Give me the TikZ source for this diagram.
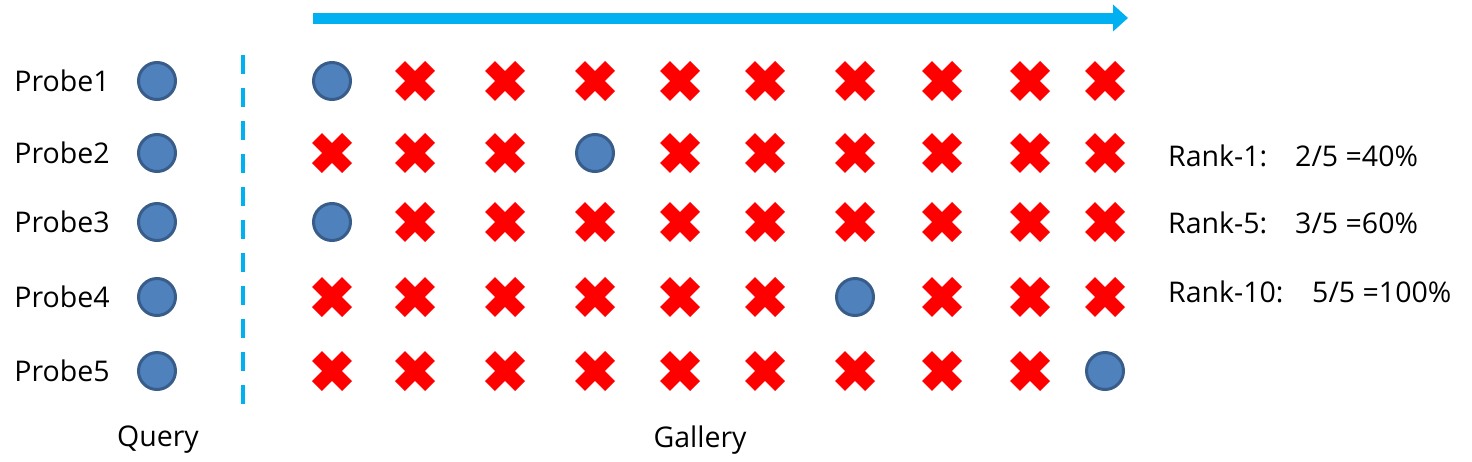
\documentclass[tikz,border=0pt]{standalone}
\usepackage{fontspec}
\setmainfont{Open Sans}
\usetikzlibrary{arrows.meta}
\definecolor{cblue}{HTML}{4F81BD}
\definecolor{cbord}{HTML}{385D8A}
\definecolor{cyanl}{HTML}{00B0F0}
\begin{document}
\begin{tikzpicture}[x=1pt,y=-1pt,
  lbl/.style={font=\fontsize{28.5}{32}\selectfont, inner sep=0pt},
  dot/.style={circle, draw=cbord, line width=3pt, fill=cblue, minimum size=37pt, inner sep=0pt},
  crs/.style={minimum size=40pt, inner sep=0pt},
  arm/.style={red, line width=14pt, line cap=butt}
]
\useasboundingbox (0,0) rectangle (1472,461);
% arrow
\coordinate (as) at (313,18);
\coordinate (ae) at (1128,18);
\draw[cyanl, line width=11pt, -{Triangle[length=15pt,width=26pt]}] (as) -- (ae);
% dashed separator
\coordinate (ds) at (243,55);
\coordinate (de) at (243,405);
\draw[cyanl, line width=4pt, dash pattern=on 19pt off 14pt] (ds) -- (de);
% rows
\foreach \r/\y/\c in {1/81/1, 2/153/4, 3/222/1, 4/297/7, 5/371/10}{
  \node[lbl] (p\r) at (62,\y) {Probe\r};
  \node[dot] (q\r) at (157,\y) {};
  \foreach \k/\x in {1/332,2/415,3/505,4/595,5/680,6/765,7/855,8/942,9/1030,10/1105}{
    \ifnum\k=\c
      \node[dot] (g\r-\k) at (\x,\y) {};
    \else
      \node[crs] (g\r-\k) at (\x,\y) {};
      \draw[arm] ([shift={(-15,-15)}]g\r-\k.center) -- ([shift={(15,15)}]g\r-\k.center);
      \draw[arm] ([shift={(-15,15)}]g\r-\k.center) -- ([shift={(15,-15)}]g\r-\k.center);
    \fi
  }
}
\node[lbl] (query) at (158,440) {Query};
\node[lbl] (gallery) at (700,440) {Gallery};
\node[lbl, anchor=west] (r1) at (1168,156) {Rank-1:};
\node[lbl, anchor=west] (v1) at (1295,156) {2/5 =40\%};
\node[lbl, anchor=west] (r5) at (1168,223) {Rank-5:};
\node[lbl, anchor=west] (v5) at (1295,223) {3/5 =60\%};
\node[lbl, anchor=west] (r10) at (1168,292) {Rank-10:};
\node[lbl, anchor=west] (v10) at (1312,292) {5/5 =100\%};
\end{tikzpicture}
\end{document}
